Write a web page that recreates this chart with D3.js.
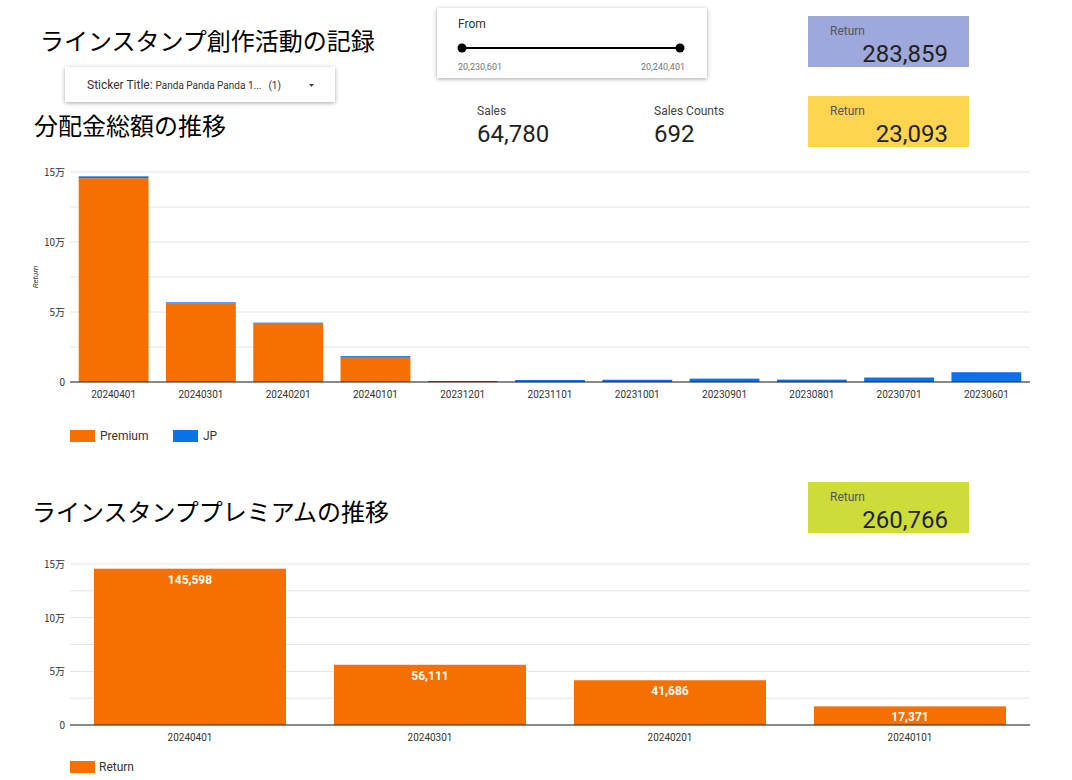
<!DOCTYPE html>
<html><head><meta charset="utf-8">
<script src="https://cdn.jsdelivr.net/npm/d3@7"></script>
<style>
body{margin:0;background:#fff;font-family:Roboto,"Noto Sans CJK JP",sans-serif;}
</style></head><body>
<svg id="c" width="1072" height="780"></svg>
<script>
const months = ["20240401","20240301","20240201","20240101","20231201","20231101","20231001","20230901","20230801","20230701","20230601"];
const premium = [145598,56111,41686,17371,0,0,0,0,0,0,0];
const jp = [1300,800,700,1100,700,1400,1600,2400,1700,3200,7000];
const premMonths = ["20240401","20240301","20240201","20240101"];
const premValues = [145598,56111,41686,17371];
const yTicks = [0,50000,100000,150000];
const kpis = [
  {label:"Return", value:"283,859", x:808, y:16, color:"#9fa8da"},
  {label:"Return", value:"23,093", x:808, y:96, color:"#ffd54f"},
  {label:"Return", value:"260,766", x:808, y:482, color:"#cddc39"}
];
const ORANGE = "#f57000", BLUE = "#0a73e8";
const svg = d3.select("#c");
const jpFont = "'Noto Sans CJK JP',sans-serif";
const fmt = d3.format(",");
const man = d => d === 0 ? "0" : (d/10000) + "万";

// titles
svg.append("text").attr("x",40).attr("y",50).attr("font-size",24).attr("font-family",jpFont).text("ラインスタンプ創作活動の記録");
svg.append("text").attr("x",34).attr("y",135).attr("font-size",24).attr("font-family",jpFont).text("分配金総額の推移");
svg.append("text").attr("x",32).attr("y",521).attr("font-size",24).attr("font-family",jpFont).text("ラインスタンププレミアムの推移");

// filter control
const f = svg.append("g");
f.append("rect").attr("x",65).attr("y",67).attr("width",270).attr("height",35).attr("fill","#fff")
  .style("filter","drop-shadow(0 1px 2px rgba(0,0,0,0.35))");
f.append("text").attr("x",87).attr("y",89).attr("font-size",12).attr("fill","#333")
  .html('Sticker Title: <tspan font-size="10">Panda Panda Panda 1...</tspan>  <tspan font-size="10" dx="4">(1)</tspan>');
f.append("path").attr("d","M309,84 l5,0 l-2.5,3z").attr("fill","#444");

// slider
const s = svg.append("g");
s.append("rect").attr("x",437).attr("y",8).attr("width",270).attr("height",70).attr("fill","#fff")
  .style("filter","drop-shadow(0 1px 2px rgba(0,0,0,0.35))");
s.append("text").attr("x",458).attr("y",28).attr("font-size",12).attr("fill","#333").text("From");
s.append("line").attr("x1",462).attr("x2",680).attr("y1",48).attr("y2",48).attr("stroke","#000").attr("stroke-width",2);
s.selectAll("circle").data([462,680]).join("circle").attr("cx",d=>d).attr("cy",48).attr("r",4.5).attr("fill","#000");
s.append("text").attr("x",458).attr("y",70).attr("font-size",9).attr("fill","#777").text("20,230,601");
s.append("text").attr("x",685).attr("y",70).attr("font-size",9).attr("fill","#777").attr("text-anchor","end").text("20,240,401");

// plain scorecards
[{l:"Sales",v:"64,780",x:477},{l:"Sales Counts",v:"692",x:654}].forEach(k=>{
  svg.append("text").attr("x",k.x).attr("y",115).attr("font-size",12).attr("fill","#444").text(k.l);
  svg.append("text").attr("x",k.x).attr("y",142).attr("font-size",24).attr("fill","#222").text(k.v);
});
kpis.forEach(k=>{
  svg.append("rect").attr("x",k.x).attr("y",k.y).attr("width",161).attr("height",51).attr("fill",k.color);
  svg.append("text").attr("x",k.x+22).attr("y",k.y+19).attr("font-size",12).attr("fill","#555").text(k.label);
  svg.append("text").attr("x",k.x+140).attr("y",k.y+46).attr("font-size",24).attr("fill","#222").attr("text-anchor","end").text(k.value);
});

function axes(g, y, x, left, right, labelSize){
  g.append("g").selectAll("line").data(d3.range(0,150001,25000)).join("line")
    .attr("x1",left).attr("x2",right).attr("y1",d=>y(d)).attr("y2",d=>y(d)).attr("stroke","#e4e4e4");
  g.append("g").selectAll("text").data(yTicks).join("text")
    .attr("x",left-5).attr("y",d=>y(d)+4).attr("text-anchor","end").attr("font-size",10).attr("fill","#333")
    .attr("font-family",jpFont).text(man);
}

// chart 1: stacked
const x1 = d3.scaleBand().domain(months).range([70,1030]).paddingInner(0.2).paddingOuter(0.1);
const y1 = d3.scaleLinear().domain([0,150000]).range([382,172]);
const g1 = svg.append("g");
axes(g1,y1,x1,70,1030);
const stack = d3.stack().keys(["premium","jp"])(months.map((m,i)=>({m,premium:premium[i],jp:jp[i]})));
g1.selectAll("g.s").data(stack).join("g").attr("fill",(d,i)=>i?BLUE:ORANGE)
  .selectAll("rect").data(d=>d).join("rect")
  .attr("x",d=>x1(d.data.m)).attr("width",x1.bandwidth())
  .attr("y",d=>y1(d[1])).attr("height",d=>y1(d[0])-y1(d[1]));
g1.append("line").attr("x1",70).attr("x2",1030).attr("y1",382).attr("y2",382).attr("stroke","#222");
g1.selectAll("text.xl").data(months).join("text").attr("class","xl")
  .attr("x",d=>x1(d)+x1.bandwidth()/2).attr("y",398).attr("text-anchor","middle").attr("font-size",10).attr("fill","#333").text(d=>d);
svg.append("text").attr("transform","translate(38,277) rotate(-90)").attr("text-anchor","middle")
  .attr("font-size",8).attr("font-style","italic").attr("fill","#333").text("Return");
[{c:ORANGE,t:"Premium",x:70},{c:BLUE,t:"JP",x:173}].forEach(l=>{
  svg.append("rect").attr("x",l.x).attr("y",430).attr("width",25).attr("height",12).attr("fill",l.c);
  svg.append("text").attr("x",l.x+30).attr("y",440).attr("font-size",12).attr("fill","#333").text(l.t);
});

// chart 2
const x2 = d3.scaleBand().domain(premMonths).range([70,1030]).paddingInner(0.2).paddingOuter(0.1);
const y2 = d3.scaleLinear().domain([0,150000]).range([725,564]);
const g2 = svg.append("g");
axes(g2,y2,x2,70,1030);
g2.selectAll("rect").data(premMonths).join("rect")
  .attr("x",d=>x2(d)).attr("width",x2.bandwidth())
  .attr("y",(d,i)=>y2(premValues[i])).attr("height",(d,i)=>y2(0)-y2(premValues[i])).attr("fill",ORANGE);
g2.selectAll("text.v").data(premMonths).join("text").attr("class","v")
  .attr("x",d=>x2(d)+x2.bandwidth()/2).attr("y",(d,i)=>y2(premValues[i])+15).attr("text-anchor","middle")
  .attr("font-size",12).attr("font-weight","bold").attr("fill","#fff").text((d,i)=>fmt(premValues[i]));
g2.append("line").attr("x1",70).attr("x2",1030).attr("y1",725).attr("y2",725).attr("stroke","#222");
g2.selectAll("text.xl").data(premMonths).join("text").attr("class","xl")
  .attr("x",d=>x2(d)+x2.bandwidth()/2).attr("y",741).attr("text-anchor","middle").attr("font-size",10).attr("fill","#333").text(d=>d);
svg.append("rect").attr("x",70).attr("y",761).attr("width",25).attr("height",12).attr("fill",ORANGE);
svg.append("text").attr("x",99).attr("y",771).attr("font-size",12).attr("fill","#333").text("Return");
</script>
</body></html>
